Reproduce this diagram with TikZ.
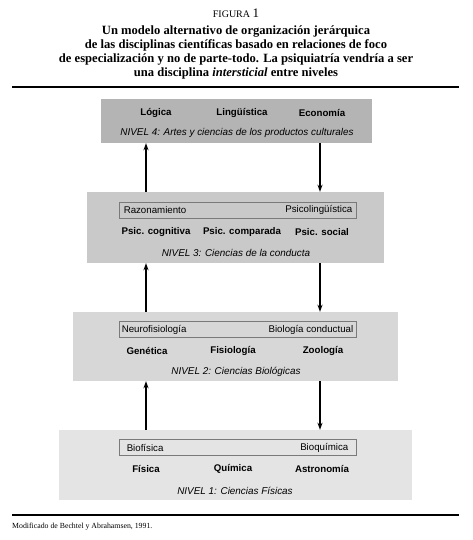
\documentclass[tikz,border=0pt]{standalone}
\usepackage{fontspec}
\setmainfont{Liberation Serif}
\setsansfont{Liberation Sans}
\usetikzlibrary{arrows.meta,positioning,calc}
\definecolor{level4bg}{HTML}{B4B4B4}
\definecolor{level3bg}{HTML}{C9C9C9}
\definecolor{level2bg}{HTML}{D7D7D7}
\definecolor{level1bg}{HTML}{E4E4E4}
\definecolor{innerborder}{HTML}{7A7A7A}

\begin{document}
\begin{tikzpicture}[
    >=Stealth,
    levelbox/.style={
        rectangle, inner sep=0pt, draw=none
    },
    innerbox/.style={
        rectangle, inner sep=0pt, draw=innerborder, line width=0.9pt,
        minimum width=237pt, minimum height=16pt
    },
    field/.style={
        font=\sffamily\fontsize{9.7pt}{11pt}\selectfont\bfseries, inner sep=0pt
    },
    subfield/.style={
        font=\sffamily\fontsize{9.7pt}{11pt}\selectfont, inner sep=0pt
    },
    levelname/.style={
        font=\sffamily\fontsize{9.9pt}{11pt}\selectfont\itshape, inner sep=0pt
    },
    arrowflow/.style={
        -{Stealth[length=7pt, width=5pt]}, line width=1.3pt, draw=black
    }
]

\useasboundingbox (0pt,0pt) rectangle (472pt,-540pt);

% ==================== HEADER ====================
\node[inner sep=0pt] (fig) at (236pt,-13pt) {{\fontsize{10pt}{12pt}\selectfont FIGURA} {\fontsize{13pt}{14pt}\selectfont 1}};
\node[inner sep=0pt, align=center, font=\fontsize{12.6pt}{14.3pt}\selectfont\bfseries] (caption) at (236pt,-52.5pt) {
    Un modelo alternativo de organización jerárquica\\
    de las disciplinas científicas basado en relaciones de foco\\
    de especialización y no de parte-todo. La psiquiatría vendría a ser\\
    una disciplina \textit{intersticial} entre niveles};
\draw[line width=1.3pt] (12pt,-87pt) -- (459pt,-87pt);

% ==================== NIVEL 4 ====================
\node[levelbox, fill=level4bg, minimum width=271pt, minimum height=44pt] (c4) at (236.5pt,-121pt) {};
\node[field] (l4a) at (156pt,-113pt) {Lógica};
\node[field] (l4b) at (242pt,-113pt) {Lingüística};
\node[field] (l4c) at (322pt,-113pt) {Economía};
\node[levelname] (n4) at (237pt,-133pt) {NIVEL 4: Artes y ciencias de los productos culturales};

% ==================== NIVEL 3 ====================
\node[levelbox, fill=level3bg, minimum width=297pt, minimum height=71pt] (c3) at (235.5pt,-227.5pt) {};
\node[innerbox, fill=level3bg] (i3) at (237.5pt,-210pt) {};
\node[subfield, anchor=west] (i3a) at ([xshift=5pt]i3.west) {Razonamiento};
\node[subfield, anchor=east] (i3b) at ([xshift=-4pt]i3.east) {Psicolingüística};
\node[field] (l3a) at (156pt,-232pt) {Psic. cognitiva};
\node[field] (l3b) at (242pt,-232pt) {Psic. comparada};
\node[field] (l3c) at (322pt,-232pt) {Psic. social};
\node[levelname] (n3) at (236pt,-253pt) {NIVEL 3: Ciencias de la conducta};

% ==================== NIVEL 2 ====================
\node[levelbox, fill=level2bg, minimum width=325pt, minimum height=69pt] (c2) at (235.5pt,-346.5pt) {};
\node[innerbox, fill=level2bg] (i2) at (237.5pt,-329.5pt) {};
\node[subfield, anchor=west] (i2a) at ([xshift=3pt]i2.west) {Neurofisiología};
\node[subfield, anchor=east] (i2b) at ([xshift=-3pt]i2.east) {Biología conductual};
\node[field] (l2a) at (147pt,-351pt) {Genética};
\node[field] (l2b) at (233pt,-351pt) {Fisiología};
\node[field] (l2c) at (323pt,-351pt) {Zoología};
\node[levelname] (n2) at (236pt,-372pt) {NIVEL 2: Ciencias Biológicas};

% ==================== NIVEL 1 ====================
\node[levelbox, fill=level1bg, minimum width=353pt, minimum height=70pt] (c1) at (235.5pt,-465pt) {};
\node[innerbox, fill=level1bg] (i1) at (237.5pt,-447.5pt) {};
\node[subfield, anchor=west] (i1a) at ([xshift=8pt]i1.west) {Biofísica};
\node[subfield, anchor=east] (i1b) at ([xshift=-8pt]i1.east) {Bioquímica};
\node[field] (l1a) at (146pt,-469pt) {Física};
\node[field] (l1b) at (233pt,-469pt) {Química};
\node[field] (l1c) at (322pt,-469pt) {Astronomía};
\node[levelname] (n1) at (235pt,-491pt) {NIVEL 1: Ciencias Físicas};

% ==================== ARROWS BETWEEN LEVELS ====================
\draw[arrowflow] ([xshift=-89.5pt]c3.north) -- ([xshift=-90.5pt]c4.south);
\draw[arrowflow] ([xshift=83.5pt]c4.south) -- ([xshift=84.5pt]c3.north);
\draw[arrowflow] ([xshift=-89.5pt]c2.north) -- ([xshift=-89.5pt]c3.south);
\draw[arrowflow] ([xshift=84.5pt]c3.south) -- ([xshift=84.5pt]c2.north);
\draw[arrowflow] ([xshift=-89.5pt]c1.north) -- ([xshift=-89.5pt]c2.south);
\draw[arrowflow] ([xshift=84.5pt]c2.south) -- ([xshift=84.5pt]c1.north);

% ==================== SOURCE ====================
\draw[line width=1.3pt] (12pt,-515pt) -- (459pt,-515pt);
\node[inner sep=0pt, anchor=west, font=\fontsize{7.8pt}{9pt}\selectfont] (source) at (12pt,-527pt) {Modificado de Bechtel y Abrahamsen, 1991.};

\end{tikzpicture}
\end{document}
